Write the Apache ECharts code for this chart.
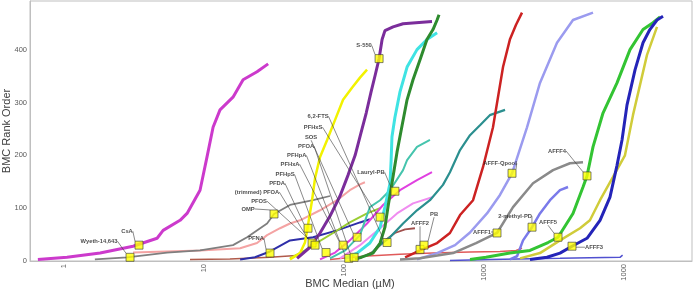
<!DOCTYPE html>
<html>
<head>
<meta charset="utf-8">
<script src="https://cdn.jsdelivr.net/npm/echarts@6/dist/echarts.min.js"></script>
<style>
  html, body { margin: 0; padding: 0; background: #fff; }
  #chart { width: 693px; height: 294px; }
</style>
</head>
<body>
<div id="chart"></div>
<script>
// x ticks and the text printed under them (the source prints "1000" twice)
const xTickValues = [1, 10, 100, 1000, 10000]
const xTickLabels = ['1', '10', '100', '1000', '1000']
const yTickValues = [0, 100, 200, 300, 400]

// rank-order curves, [BMC median µM, rank]
const csaCurve = [[0.65, 3], [1.05, 7], [1.81, 15], [3.11, 28], [4.62, 43], [5.1, 58], [6.74, 77], [7.56, 90], [9.36, 134], [10.5, 197], [11.6, 253], [13.0, 286], [16.1, 310], [19.0, 343], [23.9, 358], [28.7, 373]]
const ompCurve = [[1.66, 3], [2.82, 7], [5.44, 16], [9.36, 20], [16.1, 30], [20.3, 45], [28.2, 71], [31.6, 89], [41.1, 106], [60.1, 115], [79.4, 123]]
const lowBrownCurve = [[7.94, 3], [15.3, 4], [29.6, 7], [48.5, 11]]
const salmonCurve = [[3.11, 16], [9.36, 20], [18.1, 24], [23.9, 34], [28.2, 49], [34.9, 62], [41.1, 71], [48.5, 77], [67.4, 96], [89.1, 115], [110, 134], [130, 145], [141, 149]]
const pfnaCurve = [[18.1, 3], [23.1, 7], [29.6, 18], [41.1, 39], [60.1, 45], [89.1, 58], [130, 73], [153, 79]]
const yellowGreenCurve = [[41.1, 5], [52.6, 20], [60.1, 30], [83.5, 53], [110, 73], [146, 90], [181, 100]]
const yellowCurve = [[41.1, 3], [48.5, 15], [52.6, 35], [55.3, 68], [59.1, 115], [62.1, 157], [67.4, 197], [75.7, 229], [86.3, 267], [98.4, 305], [114, 328], [130, 347], [146, 362]]
const s550Curve = [[46.2, 5], [57.1, 26], [67.4, 53], [79.4, 85], [93.6, 123], [107, 163], [120, 200], [132, 242], [144, 280], [156, 320], [167, 352], [178, 383], [187, 419], [196, 436], [224, 443], [264, 449], [425, 453]]
const orchidCurve = [[67.4, 3], [86.3, 16], [110, 39], [146, 71], [190, 106], [251, 134], [332, 153], [425, 168]]
const plumCurve = [[93.6, 5], [130, 30], [181, 62], [239, 90], [311, 109], [432, 121]]
const turquoiseCurve = [[79.4, 5], [102, 20], [130, 49], [153, 102], [181, 115], [213, 134], [264, 172], [282, 191], [332, 216], [411, 229]]
const redCircleCurve = [[79.4, 3], [137, 9], [251, 13], [432, 15], [794, 17], [1300, 18], [1693, 20], [1868, 24]]
const maroonCurve = [[130, 5], [167, 20], [196, 39], [231, 53], [273, 60], [321, 62]]
const cyanCurve = [[102, 5], [124, 15], [153, 34], [181, 64], [196, 102], [213, 147], [217, 191], [220, 235], [231, 272], [251, 320], [282, 367], [332, 400], [391, 419], [462, 432]]
const greenCurve = [[120, 3], [161, 15], [181, 34], [196, 64], [206, 102], [220, 147], [239, 206], [260, 257], [282, 305], [311, 343], [349, 381], [391, 419], [432, 438], [462, 456], [477, 466]]
const tealCurve = [[153, 11], [172, 26], [213, 45], [264, 71], [332, 96], [411, 115], [509, 144], [571, 168], [674, 210], [794, 238], [936, 257], [1100, 276], [1413, 286]]
const redCurve = [[273, 7], [349, 20], [462, 34], [571, 53], [674, 87], [835, 115], [984, 178], [1159, 253], [1367, 367], [1530, 419], [1693, 447], [1868, 470]]
const qpoolCurve = [[332, 3], [462, 15], [621, 30], [794, 54], [1050, 90], [1300, 125], [1585, 166], [2028, 253], [2510, 337], [3321, 413], [4321, 456], [6006, 470]]
const afff1Curve = [[251, 3], [349, 5], [601, 15], [877, 34], [1238, 53], [1611, 102], [2239, 147], [3111, 172], [4111, 185], [5095, 187]]
const methylPdCurve = [[1530, 3], [1722, 9], [1900, 39], [2203, 64], [2510, 90], [2960, 115], [3490, 134], [3981, 140]]
const afff4Curve = [[794, 3], [1033, 7], [1530, 15], [2130, 20], [2864, 35], [3378, 45], [4321, 90], [5095, 140], [5441, 161], [6006, 216], [7079, 280], [8913, 337], [11038, 400], [13670, 438], [16110, 451], [18100, 462]]
const khakiCurve = [[1810, 5], [2510, 15], [3490, 39], [4850, 62], [5710, 77], [6740, 115], [8347, 159], [10160, 200], [11590, 276], [14600, 390], [17210, 443]]
const afff3Curve = [[2130, 3], [2818, 7], [3490, 15], [4252, 28], [5441, 43], [6740, 77], [7940, 121], [8913, 181], [9680, 229], [10500, 295], [12000, 362], [13670, 413], [15300, 438], [17210, 456], [19000, 463]]
const lowBlueCurve = [[571, 1], [1100, 3], [3490, 5], [9360, 7], [9770, 11]]

// highlighted compounds (yellow squares)
const markerNames = ['CsA', 'Wyeth-14,643', 'OMP', 'PFNA', 'PFDA', '(trimmed) PFOA', 'PFOS', 'PFHpS', 'PFHxA', 'PFHpA', 'PFOA', 'SOS', 'PFHxS', '6,2-FTS', 'S-550', 'Lauryl-PB', 'AFFF2', 'PB', 'AFFF-Qpool', 'AFFF1', '2-methyl-PD', 'AFFF5', 'AFFF4', 'AFFF3']
const markerX = [3.43, 2.96, 31.6, 29.6, 55.3, 59.1, 62.1, 74.4, 98.4, 108, 118, 124, 181, 203, 178, 231, 349, 373, 1585, 1238, 2203, 3378, 5441, 4252]
const markerY = [30, 7, 89, 15, 62, 34, 30, 16, 30, 5, 7, 45, 83, 35, 383, 132, 22, 30, 166, 53, 64, 45, 161, 28]

// where each callout label sits relative to its square (px)
const labelOffsets = {
  'CsA': [-12, -14], 'Wyeth-14,643': [-31, -16], 'OMP': [-26, -5], 'PFNA': [-14, -15],
  'PFDA': [-31, -45], '(trimmed) PFOA': [-55, -51], 'PFOS': [-56, -44], 'PFHpS': [-41, -78],
  'PFHxA': [-53, -81], 'PFHpA': [-52, -103], 'PFOA': [-48, -111], 'SOS': [-46, -100],
  'PFHxS': [-67, -90], '6,2-FTS': [-69, -126], 'S-550': [-15, -13], 'Lauryl-PB': [-24, -19],
  'AFFF2': [0, -26], 'PB': [10, -31], 'AFFF-Qpool': [-12, -10], 'AFFF1': [-15, -1],
  '2-methyl-PD': [-17, -11], 'AFFF5': [-10, -15], 'AFFF4': [-30, -25], 'AFFF3': [22, 1]
}

const curves = [
  { data: lowBrownCurve, color: '#b05a4a', width: 1.5 },
  { data: lowBlueCurve, color: '#5050d0', width: 1.5 },
  { data: redCircleCurve, color: '#e05a5a', width: 1.5 },
  { data: salmonCurve, color: '#f4a3a3', width: 2 },
  { data: ompCurve, color: '#7f7f7f', width: 1.8 },
  { data: pfnaCurve, color: '#2e2ea8', width: 2 },
  { data: yellowGreenCurve, color: '#9acd32', width: 2 },
  { data: maroonCurve, color: '#a0504d', width: 1.8 },
  { data: plumCurve, color: '#f08cf0', width: 2 },
  { data: orchidCurve, color: '#e040e0', width: 2 },
  { data: turquoiseCurve, color: '#45c4ad', width: 2 },
  { data: tealCurve, color: '#2b8f8f', width: 2.2 },
  { data: yellowCurve, color: '#f2f200', width: 2.5 },
  { data: csaCurve, color: '#cc3acc', width: 3 },
  { data: s550Curve, color: '#7b2d9b', width: 3 },
  { data: cyanCurve, color: '#3fe3e3', width: 3 },
  { data: greenCurve, color: '#2e8b2e', width: 3 },
  { data: redCurve, color: '#cc2222', width: 2.5 },
  { data: qpoolCurve, color: '#9b9bef', width: 2.5 },
  { data: afff1Curve, color: '#8a8a8a', width: 2.5 },
  { data: methylPdCurve, color: '#7a7aea', width: 2.5 },
  { data: khakiCurve, color: '#d0cc3a', width: 2.5 },
  { data: afff4Curve, color: '#33c433', width: 3 },
  { data: afff3Curve, color: '#2424b8', width: 3 }
]

const chart = echarts.init(document.getElementById('chart'), null, { renderer: 'canvas' })

const series = curves.map((c) => ({
  type: 'line',
  data: c.data,
  showSymbol: false,
  silent: true,
  lineStyle: { color: c.color, width: c.width },
  z: 2
}))

series.push({
  type: 'scatter',
  data: markerX.map((x, i) => ({ name: markerNames[i], value: [x, markerY[i]] })),
  symbol: 'rect',
  symbolSize: 8,
  itemStyle: { color: '#ffff00', borderColor: '#3a3a3a', borderWidth: 0.8 },
  z: 5,
  label: {
    show: true,
    position: 'inside',
    formatter: (p) => p.name,
    fontFamily: 'Liberation Sans',
    fontSize: 5.8,
    fontWeight: 'bold',
    color: '#1a1a1a'
  },
  labelLayout: (p) => {
    const off = labelOffsets[markerNames[p.dataIndex]]
    return { dx: off[0], dy: off[1] }
  },
  labelLine: {
    show: true,
    lineStyle: { color: '#3a3a3a', width: 0.6 }
  }
})

chart.setOption({
  animation: false,
  grid: {
    left: 30, right: 1, top: 1, bottom: 33,
    outerBoundsMode: 'none',
    containLabel: false,
    show: true, borderColor: '#bfbfbf', borderWidth: 1
  },
  xAxis: {
    type: 'log',
    logBase: 10,
    min: 0.571,
    max: 30600,
    name: 'BMC Median (µM)',
    nameLocation: 'middle',
    nameGap: 17,
    nameMoveOverlap: false,
    nameTextStyle: { fontFamily: 'Liberation Sans', fontSize: 11, color: '#404040', padding: [0, 22, 0, 0] },
    axisLine: { show: true, lineStyle: { color: '#bfbfbf' } },
    axisTick: { show: false },
    splitLine: { show: false },
    axisLabel: {
      rotate: 90,
      margin: 3,
      fontFamily: 'Liberation Sans',
      fontSize: 7.5,
      color: '#595959',
      interval: 0,
      formatter: (v) => {
        const i = xTickValues.findIndex((t) => Math.abs(t - v) / t < 1e-6)
        return i < 0 ? '' : xTickLabels[i]
      }
    }
  },
  yAxis: {
    type: 'value',
    min: 0,
    max: 492,
    interval: 100,
    name: 'BMC Rank Order',
    nameLocation: 'middle',
    nameGap: 18,
    nameMoveOverlap: false,
    nameTextStyle: { fontFamily: 'Liberation Sans', fontSize: 11, color: '#404040' },
    axisLine: { show: true, lineStyle: { color: '#bfbfbf' } },
    axisTick: { show: false },
    splitLine: { show: false },
    axisLabel: {
      margin: 3,
      fontFamily: 'Liberation Sans',
      fontSize: 7.5,
      color: '#595959',
      showMaxLabel: false,
      formatter: (v) => (yTickValues.includes(v) ? String(v) : '')
    }
  },
  series
})
</script>
</body>
</html>
